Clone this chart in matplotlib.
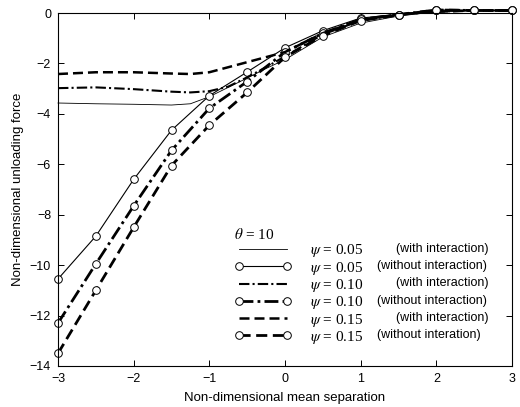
import numpy as np
import matplotlib
matplotlib.use("Agg")
import matplotlib.pyplot as plt

plt.rcParams['font.family'] = ['Liberation Sans', 'DejaVu Sans']
plt.rcParams['mathtext.fontset'] = 'stix'

# "without interaction" curves (with markers)
x_wo = [-3, -2.5, -2, -1.5, -1, -0.5, 0, 0.5, 1, 1.5, 2, 2.5, 3]
y05_wo = [-10.55, -8.85, -6.6, -4.65, -3.28, -2.34, -1.38, -0.7, -0.2, -0.06, 0.12, 0.1, 0.1]
y10_wo = [-12.3, -9.95, -7.65, -5.45, -3.78, -2.72, -1.55, -0.8, -0.25, -0.06, 0.12, 0.1, 0.1]
y15_wo = [-13.5, -11.0, -8.5, -6.05, -4.45, -3.15, -1.75, -0.9, -0.3, -0.08, 0.12, 0.1, 0.1]

# "with interaction" curves
x_w = [-3, -2.5, -2, -1.5, -1.25, -1, -0.75, -0.5, -0.25, 0, 0.5, 1, 1.5, 2, 2.5, 3]
y05_w = [-3.57, -3.6, -3.62, -3.65, -3.6, -3.32, -2.95, -2.58, -2.2, -1.85, -0.95, -0.4, -0.12, 0.05, 0.1, 0.1]
y10_w = [-2.98, -2.95, -3.02, -3.12, -3.15, -3.1, -2.92, -2.55, -2.15, -1.72, -0.85, -0.3, -0.06, 0.05, 0.1, 0.1]
y15_w = [-2.42, -2.35, -2.35, -2.4, -2.42, -2.35, -2.15, -1.95, -1.75, -1.55, -0.8, -0.28, -0.05, 0.05, 0.1, 0.1]

psi_labels = [r"$\psi$ = 0.05", r"$\psi$ = 0.05", r"$\psi$ = 0.10",
              r"$\psi$ = 0.10", r"$\psi$ = 0.15", r"$\psi$ = 0.15"]
notes = ["(with interaction)", "(without interaction)", "(with interaction)",
         "(without interaction)", "(with interaction)", "(without interation)"]

W, H = 520, 407
fig = plt.figure(figsize=(W / 100, H / 100), dpi=100)
ax = fig.add_axes([58 / W, 1 - 366 / H, (512 - 58) / W, (366 - 13) / H])

mk = dict(marker='o', markersize=5.5, markerfacecolor='white', markeredgecolor='black',
          markeredgewidth=0.7)
l1, = ax.plot(x_w, y05_w, color='black', lw=0.6, ls='-', clip_on=False)
l2, = ax.plot(x_wo, y05_wo, color='black', lw=0.8, ls='-', clip_on=False, **mk)
l3, = ax.plot(x_w, y10_w, color='black', lw=1.5, ls=(0, (5, 1.5, 1, 1.5)), clip_on=False)
l4, = ax.plot(x_wo, y10_wo, color='black', lw=2.0, ls=(0, (5, 1.5, 1, 1.5)), clip_on=False, **mk)
l5, = ax.plot(x_w, y15_w, color='black', lw=1.8, ls=(0, (4, 2)), clip_on=False)
l6, = ax.plot(x_wo, y15_wo, color='black', lw=2.0, ls=(0, (4, 2)), clip_on=False, **mk)

ax.set_xlim(-3, 3)
ax.set_ylim(-14, 0)
ax.set_xticks([-3, -2, -1, 0, 1, 2, 3])
ax.set_yticks([0, -2, -4, -6, -8, -10, -12, -14])
ax.tick_params(direction='in', top=True, right=True, labelsize=9, length=4, width=0.7, pad=5)
for s in ax.spines.values():
    s.set_linewidth(0.8)
ax.set_xlabel("Non-dimensional mean separation", fontsize=9.5, labelpad=5)
ax.set_ylabel("Non-dimensional unloading force", fontsize=9.5)

leg = ax.legend([l1, l2, l3, l4, l5, l6], psi_labels, frameon=False,
                loc='upper left', bbox_to_anchor=((234 - 58) / (512 - 58), 1 - (227 - 13) / (366 - 13)),
                prop={'family': 'Liberation Serif', 'size': 11},
                handlelength=3.8, handletextpad=1.2, labelspacing=0.02, numpoints=2,
                borderaxespad=0, borderpad=0, title=r"$\theta$ = 10", alignment='left',
                title_fontproperties={'family': 'Liberation Serif', 'size': 11})

fig.canvas.draw()
for t, note in zip(leg.get_texts(), notes):
    bb = t.get_window_extent()
    yc = (bb.y0 + bb.y1) / 2 / H
    x0 = 377 if 'without' in note else 396
    fig.text(x0 / W, yc + 0.005, note, fontsize=9, ha='left', va='center')

fig.savefig("out.png", dpi=100)
